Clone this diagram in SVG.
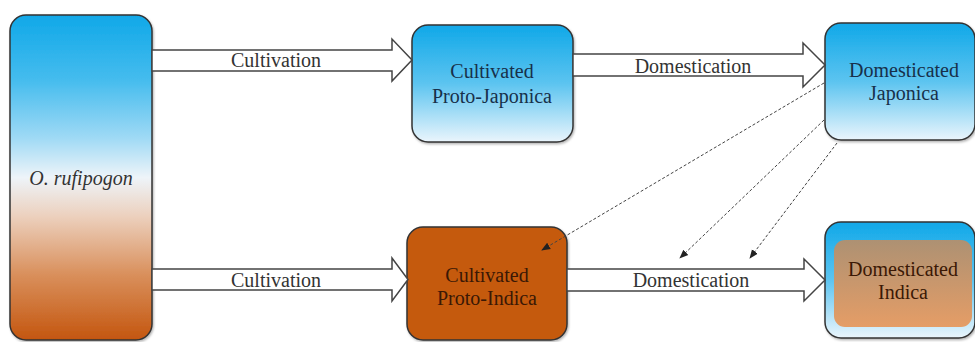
<svg xmlns="http://www.w3.org/2000/svg" width="975" height="342" viewBox="0 0 975 342">
  <defs>
    <linearGradient id="gRuf" x1="0" y1="0" x2="0" y2="1">
      <stop offset="0" stop-color="#10a8e8"/>
      <stop offset="0.2" stop-color="#45bcee"/>
      <stop offset="0.38" stop-color="#a0daf5"/>
      <stop offset="0.5" stop-color="#eef4f9"/>
      <stop offset="0.62" stop-color="#ecd0bd"/>
      <stop offset="0.8" stop-color="#d98f5b"/>
      <stop offset="1" stop-color="#c4560f"/>
    </linearGradient>
    <linearGradient id="gBlue" x1="0" y1="0" x2="0" y2="1">
      <stop offset="0" stop-color="#10a8e8"/>
      <stop offset="0.5" stop-color="#5cc4f0"/>
      <stop offset="1" stop-color="#eaf5fc"/>
    </linearGradient>
    <linearGradient id="gTan" x1="0" y1="0" x2="0" y2="1">
      <stop offset="0" stop-color="#ad9173"/>
      <stop offset="1" stop-color="#e59d66"/>
    </linearGradient>
    <marker id="ah" viewBox="0 0 10 10" refX="9" refY="5" markerWidth="9" markerHeight="9" markerUnits="userSpaceOnUse" orient="auto">
      <path d="M0,1 L10,5 L0,9 Z" fill="#222"/>
    </marker>
    <filter id="sh" x="-10%" y="-10%" width="120%" height="120%">
      <feDropShadow dx="1" dy="1.5" stdDeviation="1.2" flood-color="#000" flood-opacity="0.3"/>
    </filter>
  </defs>
  <style>
    .box { stroke: #333; stroke-width: 1.5; }
    .blk { fill: #fff; stroke: #444; stroke-width: 1.5; stroke-linejoin: miter; }
    text { font-family: 'Times New Roman', 'Liberation Serif', 'DejaVu Serif', serif; font-size: 20px; text-anchor: middle; }
    .lbl { fill: #333; }
    .navy { fill: #17304a; }
    .brown { fill: #3a1805; }
    .dash { fill: none; stroke: #444; stroke-width: 1; stroke-dasharray: 3 2; }
  </style>

  <g id="node-rufipogon">
    <rect class="box" x="10" y="15" width="142" height="325" rx="16" fill="url(#gRuf)" filter="url(#sh)"/>
    <text x="81" y="185" font-style="italic" fill="#333">O. rufipogon</text>
  </g>

  <g id="node-proto-japonica">
    <rect class="box" x="412" y="25" width="161" height="117" rx="16" fill="url(#gBlue)" filter="url(#sh)"/>
    <text class="navy" x="492" y="78">Cultivated</text>
    <text class="navy" x="492" y="103">Proto-Japonica</text>
  </g>

  <g id="node-dom-japonica">
    <rect class="box" x="825" y="23" width="150" height="117" rx="16" fill="url(#gBlue)" filter="url(#sh)"/>
    <text class="navy" x="904" y="77">Domesticated</text>
    <text class="navy" x="904" y="100">Japonica</text>
  </g>

  <g id="node-proto-indica">
    <rect class="box" x="407" y="227" width="160" height="113" rx="16" fill="#c55a11" filter="url(#sh)"/>
    <text class="brown" x="487" y="282">Cultivated</text>
    <text class="brown" x="487" y="305">Proto-Indica</text>
  </g>

  <g id="node-dom-indica">
    <rect class="box" x="825" y="222" width="150" height="116" rx="16" fill="url(#gBlue)" filter="url(#sh)"/>
    <rect x="834" y="240" width="138" height="87" rx="11" fill="url(#gTan)"/>
    <text class="brown" x="903" y="276">Domesticated</text>
    <text class="brown" x="903" y="299">Indica</text>
  </g>

  <g id="connectors">
    <polygon class="blk" points="152,50 392,50 392,39 412,60 392,81 392,71 152,71"/>
    <text class="lbl" x="276" y="67">Cultivation</text>
    <polygon class="blk" points="152,269 392,269 392,258 408,279.5 392,301 392,290 152,290"/>
    <text class="lbl" x="276" y="287">Cultivation</text>
    <polygon class="blk" points="573,54 803,54 803,43 825,65 803,87 803,76 573,76"/>
    <text class="lbl" x="693" y="73">Domestication</text>
    <polygon class="blk" points="567,269 804,269 804,259 825,280 804,301 804,291 567,291"/>
    <text class="lbl" x="691" y="287">Domestication</text>
    <line class="dash" x1="824" y1="83" x2="542" y2="250" marker-end="url(#ah)"/>
    <line class="dash" x1="824" y1="120" x2="680" y2="258" marker-end="url(#ah)"/>
    <line class="dash" x1="837" y1="143" x2="750" y2="258" marker-end="url(#ah)"/>
  </g>
</svg>
